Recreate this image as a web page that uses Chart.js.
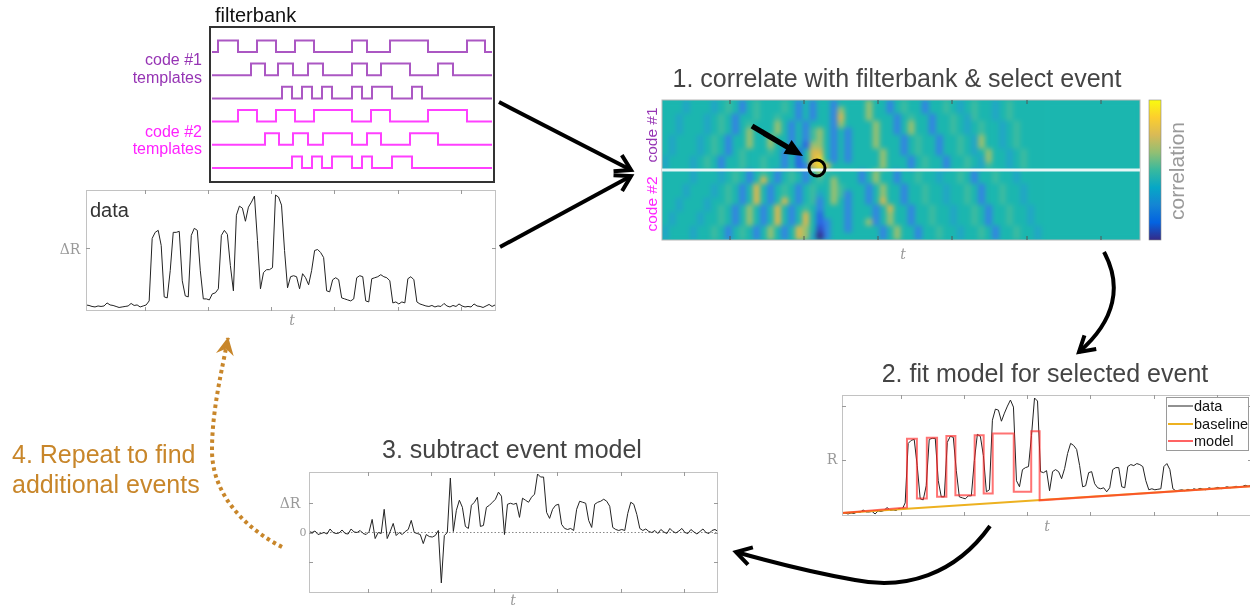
<!DOCTYPE html>
<html>
<head>
<meta charset="utf-8">
<script src="https://cdn.jsdelivr.net/npm/chart.js@4.4.1/dist/chart.umd.min.js"></script>
<style>
  html, body { margin: 0; padding: 0; background: #fff; }
  #stage { position: relative; width: 1250px; height: 606px; overflow: hidden; }
  canvas { position: absolute; }
  #heatWrap { position: absolute; left: 662px; top: 100px; width: 478px; height: 140px; overflow: hidden; background: #1bb6af; }
  #heatmap { left: 0; top: 0; filter: blur(2.5px); }
  svg { position: absolute; left: 0; top: 0; }
</style>
</head>
<body>
<div id="stage">
  <canvas id="filterbank" width="282" height="153" style="left:211px;top:28px"></canvas>
  <canvas id="dataPanel" width="410" height="121" style="left:86px;top:190px"></canvas>
  <div id="heatWrap"><canvas id="heatmap" width="478" height="140"></canvas></div>
  <canvas id="fitPanel" width="410" height="121" style="left:842px;top:395px"></canvas>
  <canvas id="residPanel" width="409" height="121" style="left:309px;top:472px"></canvas>

  <svg width="1250" height="606" xmlns="http://www.w3.org/2000/svg">
    <defs>
      <marker id="head" markerUnits="userSpaceOnUse" markerWidth="26" markerHeight="26" refX="20" refY="12" orient="auto">
        <path d="M5,3 L20,12 L5,21" fill="none" stroke="#000" stroke-width="4" stroke-linejoin="miter"/>
      </marker>
      <marker id="headGold" markerUnits="userSpaceOnUse" markerWidth="26" markerHeight="26" refX="20" refY="12" orient="auto">
        <path d="M3,3 L21,12 L3,21 L9,12 Z" fill="#c8862a"/>
      </marker>
      <linearGradient id="parula" x1="0" y1="1" x2="0" y2="0">
        <stop offset="0" stop-color="#352a87"/>
        <stop offset="0.125" stop-color="#0363e1"/>
        <stop offset="0.25" stop-color="#1485d4"/>
        <stop offset="0.375" stop-color="#06a7c6"/>
        <stop offset="0.5" stop-color="#38b99e"/>
        <stop offset="0.625" stop-color="#92bf73"/>
        <stop offset="0.75" stop-color="#d9ba56"/>
        <stop offset="0.875" stop-color="#fcce2e"/>
        <stop offset="1" stop-color="#f9fb0e"/>
      </linearGradient>
    </defs>

    <!-- filterbank frame -->
    <rect x="210" y="27" width="284" height="155" fill="none" stroke="#333" stroke-width="2"/>

    <!-- correlation map frame, ticks, separator, selected event -->
    <rect x="662" y="100" width="478" height="140" fill="none" stroke="#b5b5b5" stroke-width="1"/>
    <g stroke="#555" stroke-width="1">
      <path d="M730,100v4M804,100v4M878,100v4M952,100v4M1027,100v4M1101,100v4"/>
      <path d="M730,240v-4M804,240v-4M878,240v-4M952,240v-4M1027,240v-4M1101,240v-4"/>
    </g>
    <line x1="662" y1="170" x2="1140" y2="170" stroke="#e4f6f6" stroke-width="3"/>
    <circle cx="817" cy="168" r="8" fill="none" stroke="#000" stroke-width="3"/>
    <line x1="752" y1="126" x2="789" y2="148" stroke="#000" stroke-width="5.5"/>
    <polygon points="803,156 783.4,153.8 791.6,140" fill="#000"/>
    <rect x="1149" y="100" width="12" height="140" fill="url(#parula)" stroke="#888" stroke-width="0.6"/>

    <!-- legend of the fit panel -->
    <rect x="1166.5" y="397.5" width="82" height="53" fill="#fff" stroke="#9a9a9a" stroke-width="1"/>
    <line x1="1168" y1="406" x2="1193" y2="406" stroke="#222" stroke-width="1"/>
    <line x1="1168" y1="424" x2="1193" y2="424" stroke="#edb120" stroke-width="2"/>
    <line x1="1168" y1="441" x2="1193" y2="441" stroke="rgba(255,60,60,0.8)" stroke-width="2"/>
    <g font-family="Liberation Sans, Arial, sans-serif" font-size="14.5" fill="#111">
      <text x="1194" y="411">data</text>
      <text x="1194" y="429">baseline</text>
      <text x="1194" y="446">model</text>
    </g>

    <!-- flow arrows -->
    <g fill="none" stroke="#000" stroke-width="4">
      <path d="M499,102 L631,170" marker-end="url(#head)"/>
      <path d="M500,247 L631,176" marker-end="url(#head)"/>
      <path d="M1104,252 C1122,285 1116,320 1079,352" marker-end="url(#head)"/>
      <path d="M990,526 C955,575 905,590 855,580 C815,573 775,563 736,552" marker-end="url(#head)"/>
    </g>
    <path d="M282,547 C245,528 212,495 212,450 C212,410 222,370 228,338" fill="none" stroke="#c8862a"
          stroke-width="4" stroke-dasharray="3.5 3.5" marker-end="url(#headGold)"/>

    <g font-family="Liberation Sans, Arial, sans-serif">
      <text x="215" y="22" font-size="20" fill="#111">filterbank</text>
      <g font-size="16" text-anchor="end">
        <text x="202" y="65" fill="#9634b4">code #1</text>
        <text x="202" y="83" fill="#9634b4">templates</text>
        <text x="202" y="137" fill="#ff22ff">code #2</text>
        <text x="202" y="154" fill="#ff22ff">templates</text>
      </g>
      <text x="90" y="217" font-size="20" fill="#333">data</text>
      <g font-size="25" fill="#444" text-anchor="middle">
        <text x="897" y="87">1. correlate with filterbank &amp; select event</text>
        <text x="1045" y="382">2. fit model for selected event</text>
        <text x="512" y="458">3. subtract event model</text>
      </g>
      <text transform="translate(657,135) rotate(-90)" text-anchor="middle" font-size="15.5" fill="#9634b4">code #1</text>
      <text transform="translate(657,204) rotate(-90)" text-anchor="middle" font-size="15.5" fill="#ff22ff">code #2</text>
      <text transform="translate(1184,171) rotate(-90)" text-anchor="middle" font-size="21" fill="#9a9a9a">correlation</text>
      <g font-size="25" fill="#c8862a">
        <text x="12" y="463">4. Repeat to find</text>
        <text x="12" y="493">additional events</text>
      </g>
    </g>
    <g font-family="DejaVu Serif, serif" fill="#999" font-size="14" text-anchor="middle">
      <text x="70" y="254">ΔR</text>
      <text x="292" y="325" font-style="italic">t</text>
      <text x="903" y="259" font-style="italic">t</text>
      <text x="832" y="464">R</text>
      <text x="1047" y="531" font-style="italic">t</text>
      <text x="290" y="508">ΔR</text>
      <text x="303" y="536" font-size="11">0</text>
      <text x="513" y="605" font-style="italic">t</text>
    </g>
  </svg>
</div>

<script>
// filterbank: sample index at which each template toggles
const code1Flips = [
  [6, 26, 45, 64, 83, 102, 140, 155, 178, 216, 255, 273],
  [39, 53, 66, 81, 96, 111, 140, 155, 169, 198, 226, 241],
  [70, 80, 90, 100, 110, 120, 140, 150, 160, 180, 200, 210]
];
const code2Flips = [
  [26, 45, 64, 83, 102, 140, 159, 178, 216, 255],
  [53, 67, 81, 96, 111, 140, 155, 169, 198, 226],
  [80, 90, 100, 110, 120, 140, 150, 160, 180, 200]
];
const templateLength = 280;

// raw trace (ΔR) of the first panel
const dataVals = [
  0.6, 0.55, 0.45, 0.4, 0.5, 0.45, 0.5, 0.8, 0.6, 0.55, 0.45, 0.35, 0.4, 0.45, 0.5, 0.75, 0.55, 0.6, 0.4, 0.5, 0.6,
  1.0, 7.2, 7.8, 8.0, 6.5, 1.4, 1.3, 4.0, 7.8, 7.8, 7.9, 3.0, 1.5, 1.4, 7.5, 8.2, 8.0, 4.0, 1.2, 1.2,
  1.1, 1.7, 1.8, 2.2, 7.5, 8.0, 7.6, 4.5, 2.0, 9.5, 10.4, 10.2, 8.9, 10.3, 10.8, 11.4, 7.0, 2.2, 3.8, 4.1,
  4.1, 4.3, 11.5, 11.3, 10.5, 6.0, 2.3, 3.4, 3.5, 3.4, 2.2, 3.7, 3.3, 2.6, 4.0, 6.0, 6.1, 5.8, 5.3, 2.0,
  1.9, 3.1, 3.3, 3.1, 1.3, 1.2, 1.1, 1.0, 1.2, 3.3, 3.5, 3.4, 1.0, 0.9, 3.2, 3.3, 3.4, 3.6, 3.4, 3.3,
  3.0, 0.8, 0.9, 0.7, 0.9, 0.8, 3.2, 3.4, 3.1, 0.9, 0.7,
  0.6, 0.5, 0.45, 0.55, 0.4, 0.5, 0.45, 0.75, 0.5, 0.4, 0.55, 0.45, 0.7, 0.5, 0.4, 0.45, 0.4, 0.7, 0.5, 0.45, 0.35, 0.5, 0.65, 0.45, 0.6
];

// R with drifting baseline, the fitted baseline and the event model
const fitVals = [
  0.35, 0.3, 0.2, 0.3, 0.25, 0.4, 0.35, 0.6, 0.4, 0.4, 0.45, 0.2, 0.5, 0.45, 0.55, 0.85, 0.55, 0.6, 0.55, 0.75, 0.65,
  1.3, 7.2, 7.5, 7.6, 5.0, 1.7, 1.6, 3.0, 7.6, 7.7, 7.7, 3.5, 1.9, 1.9, 7.3, 7.9, 7.8, 4.5, 1.9, 1.8,
  1.7, 2.0, 2.0, 5.5, 8.1, 7.9, 6.0, 2.4, 2.6, 9.5, 10.6, 10.5, 9.4, 10.2, 10.9, 11.5, 10.8, 3.5, 2.9, 4.6,
  4.8, 4.9, 8.0, 11.7, 11.4,
  4.4, 4.3, 4.5, 2.5, 4.4, 4.6, 4.4, 3.7, 4.7, 6.2, 7.2, 7.0, 6.6, 5.0, 2.9, 3.0, 4.3, 4.4, 3.2, 2.8,
  2.7, 2.8, 2.4, 2.8, 4.6, 4.8, 4.8, 2.9, 2.8, 4.9, 5.1, 5.0, 5.2, 5.1, 4.9, 3.5, 2.6, 2.7, 2.6, 2.65,
  2.7, 4.9, 5.2, 4.6, 2.7, 2.5,
  2.55, 2.6, 2.5, 2.65, 2.55, 2.7, 2.6, 2.75, 2.65, 2.6, 2.8, 2.7, 2.75, 2.85, 2.7, 2.8, 2.9, 2.8, 2.85, 2.95, 2.85, 2.9, 3.05, 2.95, 3.05
];
const baseT = [0, 136];
const baseR = [0.3, 2.95];
const modelT = [0, 21.6, 21.6, 24.9, 24.9, 28.2, 28.2, 31.6, 31.6, 34.7, 34.7, 37.7, 37.7, 44.1, 44.1, 47.1, 47.1, 50.1, 50.1, 57.1, 57.1, 62.9, 62.9, 65.7, 65.7, 136];
const modelR = [0.3, 0.85, 7.67, 7.67, 1.73, 1.73, 7.77, 7.77, 1.9, 1.9, 7.93, 7.93, 2.07, 2.07, 8.0, 8.0, 2.23, 2.23, 8.17, 8.17, 2.4, 2.4, 8.4, 8.4, 1.55, 2.95];

// residual after subtracting the model
const residVals = [
  0.1, 0.0, 0.15, -0.2, -0.1, 0.0, -0.15, 0.35, 0.0, -0.1, -0.05, 0.25, -0.1, -0.15, 0.35, 0.05, 0.0, 0.2, -0.1, -0.2, 0.1,
  1.3, -0.6, 0.0, -0.1, 2.3, -0.6, 0.1, 0.9, -0.3, 0.0, -0.2, 0.1, 0.3, 1.2, 0.0, -0.1, -0.2, -1.1, -0.2, -0.4,
  -0.45, -0.3, 0.2, -5.0, -0.3, 0.0, 5.4, 0.1, 2.2, 3.2, 2.5, 0.6, 0.4, 2.7, 3.0, 3.5, 0.6, 0.7, 2.5, 2.7,
  3.0, 3.3, 4.0, 3.6, -0.2, 2.8, 2.9, 2.8, 2.9, 1.5, 3.4, 3.2, 3.0, 3.5, 3.8, 5.8, 5.5, 5.5, 2.0, 1.4,
  2.3, 2.7, 2.8, 0.8, 0.4, 0.3, 0.4, 0.2, 2.3, 3.1, 3.0, 2.9, 1.2, 0.5, 2.8, 3.0, 3.1, 3.3, 3.1, 2.6,
  0.5, 0.3, 0.2, 0.3, 0.2, 1.9, 3.0, 2.8, 1.8, 0.4,
  0.2, 0.35, 0.1, 0.0, 0.2, -0.1, 0.3, 0.05, -0.1, 0.4, 0.1, -0.05, 0.15, 0.4, 0.0, -0.1, 0.3, 0.05, -0.15, 0.1, 0.35, 0.0, -0.1, 0.2, 0.3, 0.1
];

const tTicks = [19.6, 40.6, 61.6, 82.6, 103.6, 124.6];

// correlation map, one string per template row (top to bottom), one digit per time bin
const heatRows = [
  '55545554565356555653535535555755356553556545655456555555',
  '55545554565356555653535537555755356553556545655456555555',
  '55455545653556556553535538555755535655355654655456555555',
  '55455545653565557535355537555575535755355654565545655555',
  '55455545653575557535367535355575535755355654565545655555',
  '54555456535575575535367535355575553565535565475545655555',
  '54555456535575575535277535355575553565535565475545655555',
  '54555456535655565352588535355557553565535565457554565555',
  '45554565355655655352589535355557555356553556547554565555',
  '45554565355655655352389855555557555356553556546554565555',
  '55554555456535653565357555553575535565545565355655455555',
  '55554555456535853565356575553575535565545565355655455555',
  '55545554565358535653565576555357553556554556535565545555',
  '55545554565358535653564576355357553556554556535565545555',
  '55455545565358535853563575355358553556554556535565545555',
  '55455545653575358535653555355535855355655455653556554555',
  '54555455653575358535852555355535755355655455653556554555',
  '54555455653575358535852355355735755355655455653556554555',
  '45554556535653575358751355355553575535565545565355655455',
  '45554556535653575358740355555553575535565545565355655455'
];
const heatCols = 68;
const parula = ['#352a87', '#2f48c8', '#2b64e6', '#3484e2', '#22a5c6',
                '#1bb6af', '#3cbba0', '#98c070', '#d8b850', '#f5d62c'];

const pts = vals => vals.map((v, i) => ({ x: i, y: v }));
const pairs = (xs, ys) => xs.map((x, i) => ({ x, y: ys[i] }));

// light box with inward ticks on all four sides
const matlabFrame = {
  id: 'matlabFrame',
  afterDraw(chart, args, opts) {
    const { ctx, chartArea: a, scales: { x, y } } = chart;
    ctx.save();
    ctx.strokeStyle = '#c2c2c2';
    ctx.lineWidth = 1;
    ctx.strokeRect(a.left + 0.5, a.top + 0.5, a.width - 1, a.height - 1);
    ctx.strokeStyle = '#9a9a9a';
    ctx.beginPath();
    (opts.xTicks || []).forEach(v => {
      const px = Math.round(x.getPixelForValue(v)) + 0.5;
      ctx.moveTo(px, a.bottom); ctx.lineTo(px, a.bottom - 4);
      ctx.moveTo(px, a.top); ctx.lineTo(px, a.top + 4);
    });
    (opts.yTicks || []).forEach(v => {
      const py = Math.round(y.getPixelForValue(v)) + 0.5;
      ctx.moveTo(a.left, py); ctx.lineTo(a.left + 4, py);
      ctx.moveTo(a.right, py); ctx.lineTo(a.right - 4, py);
    });
    ctx.stroke();
    ctx.restore();
  }
};

function tracePanel(id, datasets, xMax, yMin, yMax, yTicks) {
  return new Chart(document.getElementById(id), {
    type: 'line',
    data: { datasets },
    options: {
      animation: false,
      responsive: false,
      layout: { padding: 0 },
      elements: { point: { radius: 0 }, line: { tension: 0 } },
      plugins: {
        legend: { display: false },
        tooltip: { enabled: false },
        matlabFrame: { xTicks: tTicks, yTicks }
      },
      scales: {
        x: { type: 'linear', min: 0, max: xMax, display: false },
        y: { type: 'linear', min: yMin, max: yMax, display: false }
      }
    },
    plugins: [matlabFrame]
  });
}

function stepPoints(flips, base) {
  const out = [{ x: 0, y: base }];
  let high = false;
  flips.forEach(t => {
    high = !high;
    out.push({ x: t, y: high ? base + 1 : base });
  });
  out.push({ x: templateLength, y: out[out.length - 1].y });
  return out;
}

const templates = [
  ...code1Flips.map(f => ({ flips: f, color: 'rgba(150, 45, 180, 0.8)' })),
  ...code2Flips.map(f => ({ flips: f, color: 'rgba(255, 30, 255, 0.85)' }))
];

new Chart(document.getElementById('filterbank'), {
  type: 'line',
  data: {
    datasets: templates.map((tpl, k) => ({
      data: stepPoints(tpl.flips, (templates.length - 1 - k) * 2),
      borderColor: tpl.color,
      borderWidth: 2,
      stepped: true,
      pointRadius: 0
    }))
  },
  options: {
    animation: false,
    responsive: false,
    layout: { padding: 0 },
    plugins: { legend: { display: false }, tooltip: { enabled: false } },
    scales: {
      x: { type: 'linear', min: -1, max: templateLength + 1, display: false },
      y: { type: 'linear', min: -1.12, max: 12.07, display: false }
    }
  }
});

tracePanel('dataPanel', [
  { data: pts(dataVals), borderColor: '#222', borderWidth: 1 }
], 136.3, 0, 12, [6.2]);

tracePanel('fitPanel', [
  { data: pairs(modelT, modelR), borderColor: 'rgba(255, 40, 40, 0.65)', borderWidth: 2 },
  { data: pairs(baseT, baseR), borderColor: '#edb120', borderWidth: 2 },
  { data: pts(fitVals), borderColor: '#222', borderWidth: 1 }
], 136.3, 0, 12, [5.6, 10.93]);

tracePanel('residPanel', [
  { data: pts(residVals), borderColor: '#222', borderWidth: 1 },
  { data: pairs(baseT, [0, 0]), borderColor: '#888', borderWidth: 1, borderDash: [1.5, 2] }
], 136, -6, 6, [-2.95, 0, 2.95]);

// correlation map as a grid of stacked unit cells, bottom row first
const cells = heatRows.map(r => r.padEnd(heatCols, '5').slice(0, heatCols).split('').map(Number));
new Chart(document.getElementById('heatmap'), {
  type: 'bar',
  data: {
    labels: cells[0].map((_, c) => c),
    datasets: cells.slice().reverse().map(row => ({
      data: row.map(() => 1),
      backgroundColor: row.map(v => parula[v]),
      borderWidth: 0,
      barPercentage: 1,
      categoryPercentage: 1
    }))
  },
  options: {
    animation: false,
    responsive: false,
    layout: { padding: 0 },
    plugins: { legend: { display: false }, tooltip: { enabled: false } },
    scales: {
      x: { stacked: true, display: false },
      y: { stacked: true, display: false, min: 0, max: cells.length }
    }
  }
});
</script>
</body>
</html>
